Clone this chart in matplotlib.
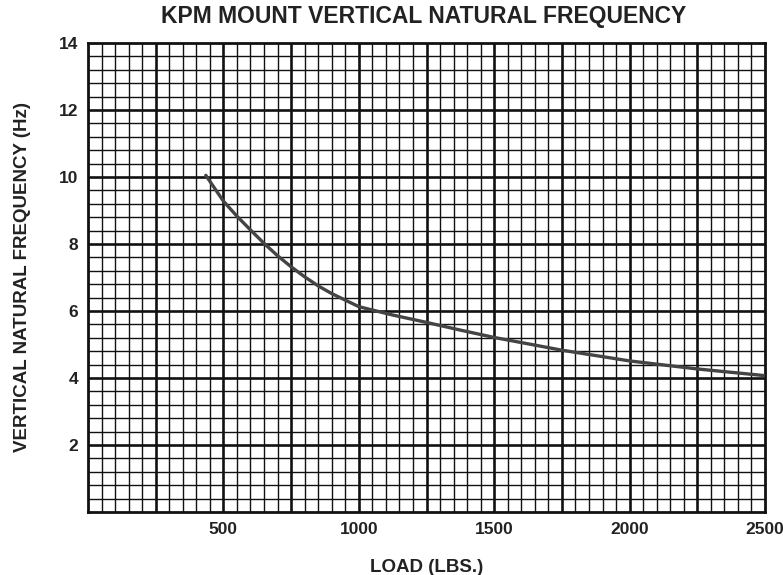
import matplotlib
matplotlib.use("Agg")
import matplotlib.pyplot as plt
import numpy as np

# Data
load_lbs = [435, 500, 550, 600, 650, 700, 750, 800, 850, 900, 1000, 1125, 1250,
            1375, 1500, 1750, 2000, 2250, 2500]
freq_hz = [10.05, 9.28, 8.83, 8.42, 8.02, 7.65, 7.32, 7.02, 6.75, 6.52, 6.13,
           5.88, 5.66, 5.43, 5.21, 4.83, 4.51, 4.27, 4.07]

x_ticks = [500, 1000, 1500, 2000, 2500]
y_ticks = [2, 4, 6, 8, 10, 12, 14]

plt.rcParams['font.family'] = ['Liberation Sans', 'DejaVu Sans']

fig = plt.figure(figsize=(7.83, 5.75), dpi=100)
W, H = 783, 575
ax = fig.add_axes([88 / W, 1 - 512 / H, (765 - 88) / W, (512 - 43) / H])

ax.set_xlim(0, 2500)
ax.set_ylim(0, 14)

# grid
for xv in np.arange(50, 2500, 50):
    major = (xv % 250 == 0)
    ax.axvline(xv, color='#111111', lw=1.9 if major else 1.0, zorder=1)
for yv in np.arange(0.4, 14, 0.4):
    major = abs(yv / 2 - round(yv / 2)) < 1e-6
    ax.axhline(yv, color='#111111', lw=1.9 if major else 1.0, zorder=1)

ax.plot(load_lbs, freq_hz, color='#444444', lw=2.4, zorder=3,
        solid_capstyle='round')

for s in ax.spines.values():
    s.set_linewidth(2.0)
    s.set_color('#111111')

ax.set_xticks(x_ticks)
ax.set_yticks(y_ticks)
ax.tick_params(length=0, labelsize=12.5, pad=7)
for lab in ax.get_xticklabels() + ax.get_yticklabels():
    lab.set_fontweight('bold')
    lab.set_color('#222222')

ax.set_xlabel('LOAD (LBS.)', fontsize=13.5, fontweight='bold', labelpad=16,
              color='#222222')
ax.set_ylabel('VERTICAL NATURAL FREQUENCY (Hz)', fontsize=13.5,
              fontweight='bold', labelpad=20, color='#222222')
fig.text(424 / W, 1 - 17 / H, 'KPM MOUNT VERTICAL NATURAL FREQUENCY',
         ha='center', va='center', fontsize=16.5, fontweight='bold',
         color='#222222')

fig.savefig('out.png', dpi=100)
